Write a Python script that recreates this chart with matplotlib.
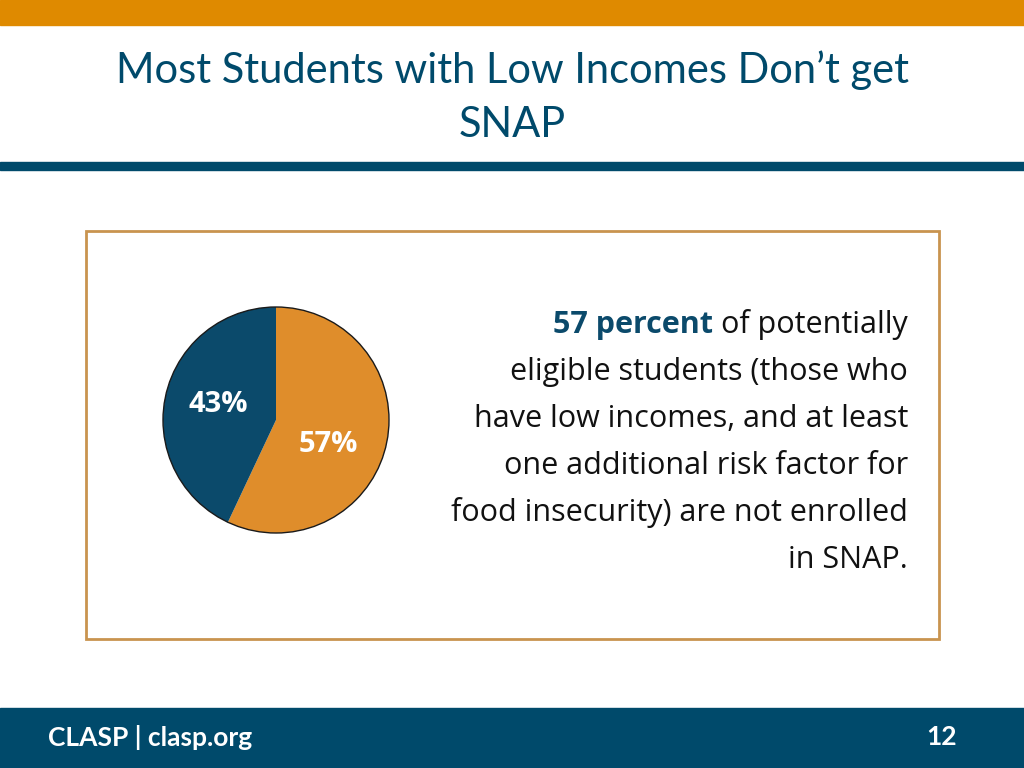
import matplotlib.pyplot as plt
from matplotlib.patches import Rectangle, Circle
from matplotlib.text import Annotation

# slide content
title_lines = ['Most Students with Low Incomes Don\u2019t get', 'SNAP']
shares = [57, 43]
share_labels = ['57%', '43%']
share_colors = ['#DF8D2B', '#0B4A6B']
highlight = '57 percent '
body_first = 'of potentially'
body_lines = ['eligible students (those who',
              'have low incomes, and at least',
              'one additional risk factor for',
              'food insecurity) are not enrolled',
              'in SNAP.']
footer_left = 'CLASP | clasp.org'
footer_right = '12'

W, H = 1024, 768
BLUE = '#004A6B'
ORANGE = '#DF8A00'


def fx(x):
    return x / W


def fy(y):
    return 1 - y / H


fig = plt.figure(figsize=(W / 100, H / 100), dpi=100)
fig.patch.set_facecolor('white')

# header / footer bands
fig.patches.append(Rectangle((0, fy(25)), 1, 25 / H, transform=fig.transFigure,
                             color=ORANGE, zorder=-2))
fig.patches.append(Rectangle((0, fy(170)), 1, 8 / H, transform=fig.transFigure,
                             color=BLUE, zorder=-2))
fig.patches.append(Rectangle((0, 0), 1, 60 / H, transform=fig.transFigure,
                             color=BLUE, zorder=-2))
# content frame
fig.patches.append(Rectangle((fx(86), fy(639)), 853 / W, 408 / H, transform=fig.transFigure,
                             facecolor='none', edgecolor='#C9944F', linewidth=2, zorder=-1))

fig.text(0.5, fy(70), title_lines[0], ha='center', va='center', fontsize=30,
         family='Lato', color=BLUE)
fig.text(0.5, fy(125), title_lines[1], ha='center', va='center', fontsize=30,
         family='Lato', color=BLUE)

fig.text(fx(48), fy(737), footer_left, ha='left', va='center', fontsize=19,
         family='Lato', fontweight='bold', color='white')
fig.text(fx(957), fy(737), footer_right, ha='right', va='center', fontsize=19,
         family='Lato', fontweight='bold', color='white')

# pie
r = 113
ax = fig.add_axes([fx(276 - r), fy(420 + r), 2 * r / W, 2 * r / H])
ax.pie(shares, colors=share_colors, startangle=90, counterclock=False,
       wedgeprops=dict(linewidth=0))
ax.add_patch(Circle((0, 0), 1, facecolor='none', edgecolor='#1A1A1A',
                    linewidth=1, clip_on=False))
ax.set_xlim(-1, 1)
ax.set_ylim(-1, 1)
ax.set_aspect('equal')
ax.axis('off')
ax.text(0.46, -0.22, share_labels[0], ha='center', va='center', color='white',
        fontsize=21, fontweight='bold', family='Open Sans')
ax.text(-0.51, 0.14, share_labels[1], ha='center', va='center', color='white',
        fontsize=21, fontweight='bold', family='Open Sans')

# body text, right aligned
x_right = fx(908)
fs = 22
first = fig.text(x_right, fy(325), body_first, ha='right', va='center', fontsize=fs,
                 family='Open Sans', color='#111111')
fig.add_artist(Annotation(highlight, xy=(0, 0), xycoords=first, ha='right', va='bottom',
                          fontsize=fs, family='Open Sans', fontweight='bold',
                          color='#0B4A6B', annotation_clip=False))
for i, line in enumerate(body_lines):
    fig.text(x_right, fy(372 + 47 * i), line, ha='right', va='center', fontsize=fs,
             family='Open Sans', color='#111111')

plt.savefig('out.png', dpi=100)
